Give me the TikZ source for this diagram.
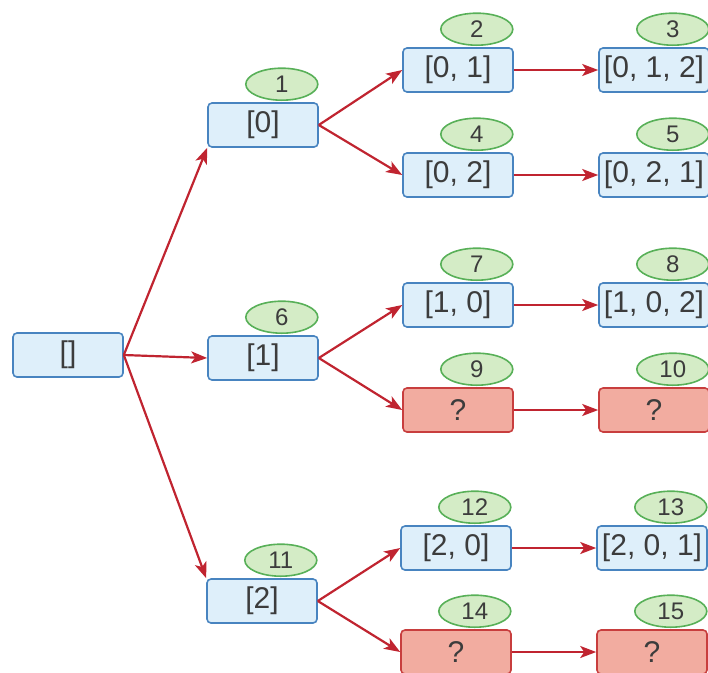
\documentclass[tikz,border=0pt]{standalone}
\usepackage{fontspec}
\setmainfont{Liberation Sans}
\usetikzlibrary{arrows.meta,calc,shapes.geometric}
\definecolor{bfill}{RGB}{222,239,250}
\definecolor{bline}{RGB}{72,132,192}
\definecolor{rfill}{RGB}{242,172,160}
\definecolor{rline}{RGB}{200,62,62}
\definecolor{gfill}{RGB}{212,236,198}
\definecolor{gline}{RGB}{88,176,88}
\definecolor{arr}{RGB}{192,36,48}
\definecolor{txt}{RGB}{60,60,60}
\tikzset{
  box/.style={draw=bline,fill=bfill,line width=1.6pt,rounded corners=4pt,
    minimum width=110pt,minimum height=44pt,inner sep=0pt,
    font=\fontsize{30}{32}\selectfont,text=txt},
  qbox/.style={box,draw=rline,fill=rfill},
  num/.style={ellipse,draw=gline,fill=gfill,line width=1.6pt,
    minimum width=72pt,minimum height=32pt,inner sep=0pt,
    font=\fontsize{24}{26}\selectfont,text=txt},
  link/.style={draw=arr,line width=2.2pt,-{Stealth[length=16pt,width=12pt,inset=4pt]}}
}
\begin{document}
\begin{tikzpicture}[x=1pt,y=-1pt]
\useasboundingbox (0,0) rectangle (708,672);
\node[box] (r) at (68,355) {[]};
\node[box] (n1) at (263,125) {[0]};
\node[box] (n6) at (263,358) {[1]};
\node[box] (n11) at (262,601) {[2]};
\node[box] (n2) at (458,70) {[0, 1]};
\node[box] (n4) at (458,175) {[0, 2]};
\node[box] (n7) at (458,305) {[1, 0]};
\node[qbox] (n9) at (458,410) {?};
\node[box] (n12) at (456,548) {[2, 0]};
\node[qbox] (n14) at (456,652) {?};
\node[box] (n3) at (654,70) {[0, 1, 2]};
\node[box] (n5) at (654,175) {[0, 2, 1]};
\node[box] (n8) at (654,305) {[1, 0, 2]};
\node[qbox] (n10) at (654,410) {?};
\node[box] (n13) at (652,548) {[2, 0, 1]};
\node[qbox] (n15) at (652,652) {?};
\foreach \b/\t in {n1/1,n6/6,n11/11,n2/2,n4/4,n7/7,n9/9,n12/12,n14/14,n3/3,n5/5,n8/8,n10/10,n13/13,n15/15}{
  \node[num] (e\t) at ($(\b.north east)+(-37,-18)$) {\t};
}
\draw[link] (r.east) -- (n1.south west);
\draw[link] (r.east) -- (n6.west);
\draw[link] (r.east) -- (n11.north west);
\draw[link] (n1.east) -- (n2.west);
\draw[link] (n1.east) -- (n4.west);
\draw[link] (n6.east) -- (n7.west);
\draw[link] (n6.east) -- (n9.west);
\draw[link] (n11.east) -- (n12.west);
\draw[link] (n11.east) -- (n14.west);
\draw[link] (n2.east) -- (n3.west);
\draw[link] (n4.east) -- (n5.west);
\draw[link] (n7.east) -- (n8.west);
\draw[link] (n9.east) -- (n10.west);
\draw[link] (n12.east) -- (n13.west);
\draw[link] (n14.east) -- (n15.west);
\end{tikzpicture}
\end{document}
